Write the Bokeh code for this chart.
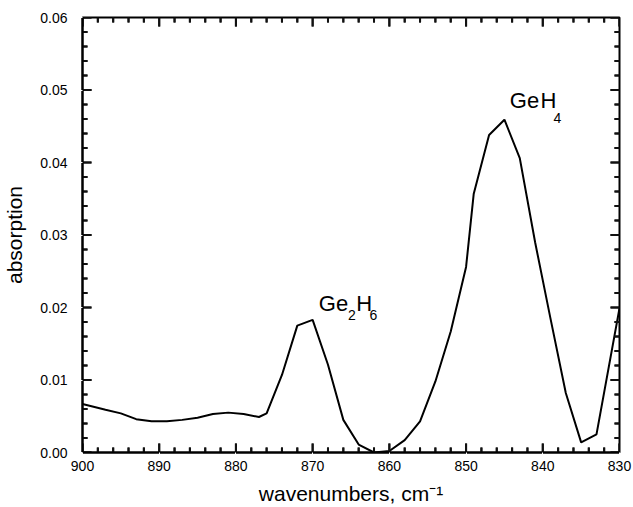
import math
from bokeh.plotting import figure
from bokeh.models import Range1d, NumeralTickFormatter, FixedTicker
from bokeh.core.properties import value
from bokeh.embed import file_html
from bokeh.resources import INLINE

wavenumbers = [900, 897, 895, 893, 891, 889, 887, 885, 883, 881, 879, 877, 876,
               874, 872, 870, 868, 866, 864, 862, 860, 858, 856, 854, 852, 850,
               849, 847, 845, 843, 841, 839, 837, 835, 833, 830]
absorption = [0.0067, 0.0059, 0.0054, 0.0046, 0.0043, 0.0043, 0.0045, 0.0048,
              0.0053, 0.0055, 0.0053, 0.0049, 0.0054, 0.0107, 0.0175, 0.0183,
              0.0121, 0.0045, 0.0011, 0.0000, 0.0002, 0.0017, 0.0043, 0.0098,
              0.0167, 0.0256, 0.0357, 0.0438, 0.0459, 0.0406, 0.0290, 0.0185,
              0.0082, 0.0014, 0.0025, 0.0199]
x_ticks = [900, 890, 880, 870, 860, 850, 840, 830]
y_ticks = [0.00, 0.01, 0.02, 0.03, 0.04, 0.05, 0.06]
x_minor = [v for v in range(830, 901, 2) if v % 10 != 0]
y_minor = [round(i * 0.002, 3) for i in range(0, 31) if i % 5 != 0]

X0, X1 = 900, 830
Y0, Y1 = 0.0, 0.06
FONT = "Liberation Sans"
TICK = "#111111"

W, H = 633, 507
BL, BR, BT, BB = 80, 14, 17, 54
FW, FH = W - BL - BR, H - BT - BB   # frame size in pixels

p = figure(width=W, height=H, output_backend="svg", toolbar_location=None,
           x_range=Range1d(X0, X1), y_range=Range1d(Y0, Y1),
           min_border_left=BL, min_border_right=BR, min_border_top=BT,
           min_border_bottom=BB)
p.xgrid.visible = False
p.ygrid.visible = False
p.outline_line_color = "black"
p.outline_line_width = 2

p.line(wavenumbers, absorption, line_color="black", line_width=2)

# inward ticks on all four sides
MAJ, MIN = 9, 5
px_x = abs(X1 - X0) / FW
px_y = abs(Y1 - Y0) / FH
dx = -px_x if X1 < X0 else px_x
seg_kw = dict(line_color=TICK, line_width=2)
for ticks, L in ((x_ticks, MAJ), (x_minor, MIN)):
    n = len(ticks)
    p.segment(x0=ticks, y0=[Y0] * n, x1=ticks, y1=[Y0 + L * px_y] * n, **seg_kw)
    p.segment(x0=ticks, y0=[Y1] * n, x1=ticks, y1=[Y1 - L * px_y] * n, **seg_kw)
    # dash markers centred on the frame edge; the frame clips the outer half
    p.scatter(x=ticks, y=[Y0] * n, marker="dash", size=2 * L, angle=math.pi / 2,
              line_color=TICK, line_width=2)
    p.scatter(x=ticks, y=[Y1] * n, marker="dash", size=2 * L, angle=math.pi / 2,
              line_color=TICK, line_width=2)
for ticks, L in ((y_ticks, MAJ), (y_minor, MIN)):
    n = len(ticks)
    p.segment(x0=[X0] * n, y0=ticks, x1=[X0 + L * dx] * n, y1=ticks, **seg_kw)
    p.segment(x0=[X1] * n, y0=ticks, x1=[X1 - L * dx] * n, y1=ticks, **seg_kw)
    p.scatter(x=[X0] * n, y=ticks, marker="dash", size=2 * L,
              line_color=TICK, line_width=2)
    p.scatter(x=[X1] * n, y=ticks, marker="dash", size=2 * L,
              line_color=TICK, line_width=2)

def style_axis(ax):
    ax.axis_line_width = 2
    ax.axis_line_color = "black"
    ax.major_tick_in = 0
    ax.major_tick_out = 6
    ax.minor_tick_in = 0
    ax.minor_tick_out = 0
    ax.major_tick_line_color = "white"
    ax.major_label_text_font = FONT
    ax.major_label_text_font_size = "14px"
    ax.major_label_text_color = "black"
    ax.axis_label_text_font = FONT
    ax.axis_label_text_font_size = "21px"
    ax.axis_label_text_font_style = "normal"
    ax.axis_label_text_color = "black"

xa = p.xaxis[0]
xa.ticker = FixedTicker(ticks=x_ticks)
style_axis(xa)
xa.axis_label = "wavenumbers, cm⁻¹"
xa.major_label_standoff = 2
xa.axis_label_standoff = 8

ya = p.yaxis[0]
ya.ticker = FixedTicker(ticks=y_ticks)
ya.formatter = NumeralTickFormatter(format="0.00")
style_axis(ya)
ya.axis_label = "absorption"
ya.major_label_standoff = 9
ya.axis_label_standoff = 11

# peak labels (main text + subscripts)
big = "22px"
small = "14px"
txt_kw = dict(text_font=value(FONT), text_align="left", text_baseline="alphabetic",
              text_color="black")
p.text(x=[869.2], y=[0.0205], text=["Ge"], text_font_size=big, **txt_kw)
p.text(x=[865.4], y=[0.0189], text=["2"], text_font_size=small, **txt_kw)
p.text(x=[864.3], y=[0.0205], text=["H"], text_font_size=big, **txt_kw)
p.text(x=[862.6], y=[0.0190], text=["6"], text_font_size=small, **txt_kw)

p.text(x=[844.3], y=[0.0486], text=["Ge"], text_font_size=big, **txt_kw)
p.text(x=[840.3], y=[0.0486], text=["H"], text_font_size=big, **txt_kw)
p.text(x=[838.6], y=[0.0461], text=["4"], text_font_size=small, **txt_kw)

open("out.html", "w").write(file_html(p, INLINE))
